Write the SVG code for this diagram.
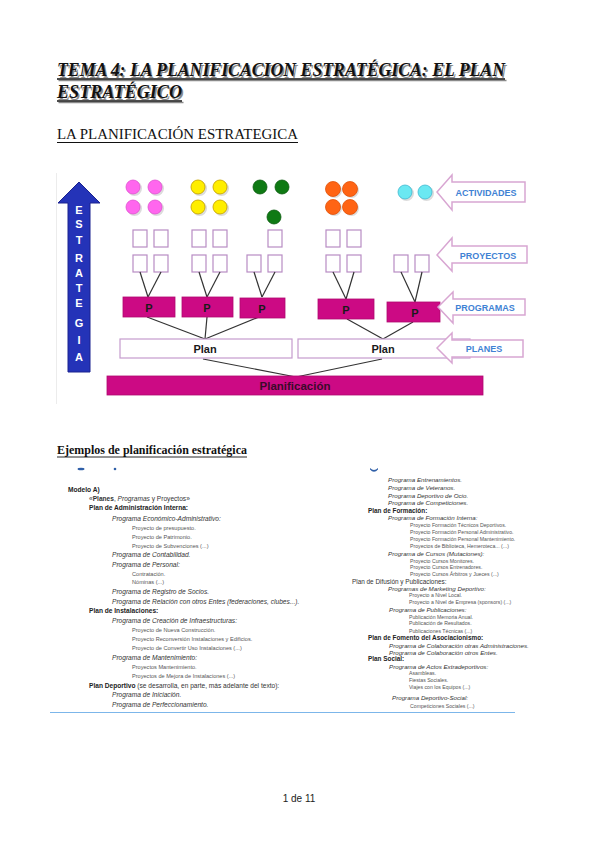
<svg xmlns="http://www.w3.org/2000/svg" width="599" height="848" viewBox="0 0 599 848">
<style>
.ttl{font-family:"Liberation Serif",serif;font-weight:bold;font-style:italic;font-size:19px;fill:#111}
.sh{fill:#8a8a8a}
.sec{font-family:"Liberation Serif",serif;font-size:14px;fill:#111}
.ej{font-family:"Liberation Serif",serif;font-weight:bold;font-size:12px;fill:#111}
.sq{fill:#fff;stroke:#b88cc4;stroke-width:1.2}
.pbox{fill:#cc0a84;stroke:#b0086f;stroke-width:0.8}
.plan{fill:#fff;stroke:#c59ccd;stroke-width:1.2}
.lbl{font-family:"Liberation Sans",Arial,sans-serif;font-weight:bold;fill:#1a1a1a;text-anchor:middle}
.con{stroke:#333;stroke-width:1.2;fill:none}
.arr{fill:#fff;stroke:#d8a6d2;stroke-width:1.5}
.arrt{font-family:"Liberation Sans",Arial,sans-serif;font-weight:bold;font-size:9px;fill:#3f82d4;text-anchor:middle}
.vl{font-family:"Liberation Sans",Arial,sans-serif;font-weight:bold;font-size:11px;fill:#fff;text-anchor:middle}
.t{font-family:"Liberation Sans",Arial,sans-serif;fill:#333}
.b{font-weight:bold;font-size:6.6px;fill:#222}
.i{font-style:italic;font-size:6.6px}
.s{font-size:5.6px;fill:#555}
.ri{font-style:italic;font-size:6.2px}
.rs{font-size:5.2px;fill:#555}
.rb{font-weight:bold;font-size:6.4px;fill:#222}
</style>

<!-- Titles -->
<g id="title">
<text class="ttl sh" x="58.5" y="77.5" textLength="448" lengthAdjust="spacingAndGlyphs">TEMA 4: LA PLANIFICACION ESTRATÉGICA: EL PLAN</text>
<text class="ttl" x="57" y="76" textLength="448" lengthAdjust="spacingAndGlyphs">TEMA 4: LA PLANIFICACION ESTRATÉGICA: EL PLAN</text>
<line x1="58.5" y1="80.5" x2="506.5" y2="80.5" stroke="#8a8a8a" stroke-width="1.5"/>
<line x1="57" y1="79" x2="505" y2="79" stroke="#111" stroke-width="1.5"/>
<text class="ttl sh" x="58.5" y="99.5" textLength="125" lengthAdjust="spacingAndGlyphs">ESTRATÉGICO</text>
<text class="ttl" x="57" y="98" textLength="125" lengthAdjust="spacingAndGlyphs">ESTRATÉGICO</text>
<line x1="58.5" y1="102.5" x2="183.5" y2="102.5" stroke="#8a8a8a" stroke-width="1.5"/>
<line x1="57" y1="101" x2="182" y2="101" stroke="#111" stroke-width="1.5"/>
</g>
<g id="section1">
<text class="sec" x="57" y="139" textLength="241" lengthAdjust="spacingAndGlyphs">LA PLANIFICACIÓN ESTRATEGICA</text>
<line x1="57" y1="142.5" x2="298" y2="142.5" stroke="#111" stroke-width="1"/>
</g>

<!-- Diagram -->
<line x1="56.5" y1="173" x2="56.5" y2="404" stroke="#ececec" stroke-width="1"/>

<g id="estrategia">
<polygon points="79,182 100,203 90,203 90,372 68,372 68,203 58,203" fill="#2433b8" stroke="#1a2290" stroke-width="1"/>
<text class="vl" x="79" y="214">E</text>
<text class="vl" x="79" y="228">S</text>
<text class="vl" x="79" y="244">T</text>
<text class="vl" x="79" y="262">R</text>
<text class="vl" x="79" y="277">A</text>
<text class="vl" x="79" y="292">T</text>
<text class="vl" x="79" y="307">E</text>
<text class="vl" x="79" y="327">G</text>
<text class="vl" x="79" y="344">I</text>
<text class="vl" x="79" y="361">A</text>
</g>

<!-- Activity circles -->
<g id="actividades-circulos">
<g fill="#dcdcdc">
<circle cx="134.5" cy="188.5" r="7.5"/><circle cx="156.5" cy="188.5" r="7.5"/><circle cx="134.5" cy="208.5" r="7.5"/><circle cx="156.5" cy="208.5" r="7.5"/>
<circle cx="199.5" cy="188.5" r="7.5"/><circle cx="221.5" cy="188.5" r="7.5"/><circle cx="199.5" cy="208.5" r="7.5"/><circle cx="221.5" cy="208.5" r="7.5"/>
<circle cx="334.5" cy="190.5" r="7.5"/><circle cx="351.5" cy="190.5" r="7.5"/><circle cx="334.5" cy="208.5" r="7.5"/><circle cx="351.5" cy="208.5" r="7.5"/>
<circle cx="406.5" cy="193.5" r="7.5"/><circle cx="426.5" cy="193.5" r="7.5"/>
</g>
<g fill="#ff66ee" stroke="#e050d0" stroke-width="0.8">
<circle cx="133" cy="187" r="7"/><circle cx="155" cy="187" r="7"/><circle cx="133" cy="207" r="7"/><circle cx="155" cy="207" r="7"/>
</g>
<g fill="#ffee00" stroke="#c9a800" stroke-width="0.9">
<circle cx="198" cy="187" r="7"/><circle cx="220" cy="187" r="7"/><circle cx="198" cy="207" r="7"/><circle cx="220" cy="207" r="7"/>
</g>
<g fill="#0f7a14" stroke="#0a5a0e" stroke-width="0.8">
<circle cx="260" cy="187" r="7"/><circle cx="282" cy="187" r="7"/><circle cx="274" cy="217" r="7"/>
</g>
<g fill="#ff6414" stroke="#e05008" stroke-width="0.8">
<circle cx="333" cy="189" r="7.5"/><circle cx="350" cy="189" r="7.5"/><circle cx="333" cy="207" r="7.5"/><circle cx="350" cy="207" r="7.5"/>
</g>
<g fill="#6ae8f2" stroke="#40b8d0" stroke-width="0.8">
<circle cx="405" cy="192" r="7"/><circle cx="425" cy="192" r="7"/>
</g>
</g>

<!-- Project squares -->
<g id="proyectos-cuadros">
<rect class="sq" x="133" y="230" width="14" height="17"/><rect class="sq" x="154" y="230" width="14" height="17"/>
<rect class="sq" x="133" y="255" width="14" height="17"/><rect class="sq" x="154" y="255" width="14" height="17"/>
<rect class="sq" x="192" y="230" width="14" height="17"/><rect class="sq" x="213" y="230" width="14" height="17"/>
<rect class="sq" x="192" y="255" width="14" height="17"/><rect class="sq" x="213" y="255" width="14" height="17"/>
<rect class="sq" x="268" y="230" width="14" height="17"/>
<rect class="sq" x="247" y="255" width="14" height="17"/><rect class="sq" x="268" y="255" width="14" height="17"/>
<rect class="sq" x="326" y="230" width="14" height="17"/><rect class="sq" x="347" y="230" width="14" height="17"/>
<rect class="sq" x="326" y="255" width="14" height="17"/><rect class="sq" x="347" y="255" width="14" height="17"/>
<rect class="sq" x="394" y="255" width="14" height="17"/><rect class="sq" x="415" y="255" width="14" height="17"/>
</g>

<!-- Connectors -->
<g id="conectores" class="con">
<line x1="140" y1="272" x2="148" y2="297"/><line x1="161" y1="272" x2="148" y2="297"/>
<line x1="199" y1="272" x2="207" y2="297"/><line x1="220" y1="272" x2="207" y2="297"/>
<line x1="254" y1="272" x2="262" y2="297"/><line x1="275" y1="272" x2="262" y2="297"/>
<line x1="333" y1="272" x2="346" y2="299"/><line x1="354" y1="272" x2="346" y2="299"/>
<line x1="401" y1="272" x2="415" y2="302"/><line x1="422" y1="272" x2="415" y2="302"/>
<line x1="147" y1="317" x2="205" y2="339"/><line x1="207" y1="317" x2="205" y2="339"/><line x1="259" y1="317" x2="205" y2="339"/>
<line x1="347" y1="319" x2="383" y2="339"/><line x1="413" y1="322" x2="383" y2="339"/>
<line x1="203" y1="359" x2="296" y2="377"/><line x1="382" y1="359" x2="296" y2="377"/>
</g>

<!-- Programs -->
<g id="programa-1"><rect class="pbox" x="123" y="297" width="52" height="20"/><text class="lbl" x="149" y="312" font-size="11">P</text></g>
<g id="programa-2"><rect class="pbox" x="182" y="297" width="51" height="20"/><text class="lbl" x="207" y="312" font-size="11">P</text></g>
<g id="programa-3"><rect class="pbox" x="240" y="298" width="45" height="20"/><text class="lbl" x="262" y="313" font-size="11">P</text></g>
<g id="programa-4"><rect class="pbox" x="318" y="299" width="56" height="20"/><text class="lbl" x="346" y="314" font-size="11">P</text></g>
<g id="programa-5"><rect class="pbox" x="387" y="302" width="53" height="20"/><text class="lbl" x="415" y="317" font-size="11">P</text></g>

<!-- Plans -->
<g id="plan-1"><rect class="plan" x="120" y="339" width="172" height="19"/><text class="lbl" x="205" y="352.5" font-size="11">Plan</text></g>
<g id="plan-2"><rect class="plan" x="298" y="339" width="172" height="19"/><text class="lbl" x="383" y="352.5" font-size="11">Plan</text></g>

<!-- Planificacion -->
<g id="planificacion"><rect x="107" y="376" width="376" height="19" fill="#cc0a84" stroke="#b0086f" stroke-width="0.8"/><text class="lbl" x="295" y="390" font-size="11.5" fill="#3a0a2a" style="fill:#3a0a2a">Planificación</text></g>

<!-- Level arrows -->
<g id="flecha-actividades"><polygon class="arr" points="437,192 452,175 452,182 525,182 525,202 452,202 452,210"/><text class="arrt" x="486" y="195.5">ACTIVIDADES</text></g>
<g id="flecha-proyectos"><polygon class="arr" points="437,255 452,238 452,246 527,246 527,263 452,263 452,271"/><text class="arrt" x="488" y="258.5">PROYECTOS</text></g>
<g id="flecha-programas"><polygon class="arr" points="438,307 453,292 453,299 525,299 525,315 453,315 453,323"/><text class="arrt" x="485" y="310.5">PROGRAMAS</text></g>
<g id="flecha-planes"><polygon class="arr" points="437,348 452,333 452,340 523,340 523,357 452,357 452,363"/><text class="arrt" x="484" y="351.5">PLANES</text></g>

<!-- Examples -->
<g id="section2">
<text class="ej" x="57" y="454" textLength="190" lengthAdjust="spacingAndGlyphs">Ejemplos de planificación estratégica</text>
<line x1="57" y1="457" x2="247" y2="457" stroke="#111" stroke-width="0.9"/>
</g>
<g id="marcas" fill="#2f5fa8">
<ellipse cx="81" cy="469" rx="3.5" ry="1.3"/>
<ellipse cx="115" cy="469" rx="1.3" ry="1.3"/>
<path d="M370,468 Q374,472 378,468 L378,469.5 Q374,474 370,469.5 Z"/>
</g>

<g id="texto-izquierda" class="t">
<text class="b" x="68" y="492">Modelo A)</text>
<text class="i" x="89" y="501" style="font-style:normal">«<tspan font-weight="bold">Planes</tspan>, <tspan font-style="italic">Programas</tspan> y Proyectos»</text>
<text class="b" x="89" y="510">Plan de Administración Interna:</text>
<text class="i" x="112" y="521">Programa Económico-Administrativo:</text>
<text class="s" x="132" y="530">Proyecto de presupuesto.</text>
<text class="s" x="132" y="539">Proyecto de Patrimonio.</text>
<text class="s" x="132" y="548">Proyecto de Subvenciones (...)</text>
<text class="i" x="112" y="557">Programa de Contabilidad.</text>
<text class="i" x="112" y="567">Programa de Personal:</text>
<text class="s" x="132" y="576">Contratación.</text>
<text class="s" x="132" y="584">Nóminas (...)</text>
<text class="i" x="112" y="594">Programa de Registro de Socios.</text>
<text class="i" x="112" y="604">Programa de Relación con otros Entes (federaciones, clubes...).</text>
<text class="b" x="89" y="613">Plan de Instalaciones:</text>
<text class="i" x="112" y="623">Programa de Creación de Infraestructuras:</text>
<text class="s" x="132" y="632">Proyecto de Nueva Construcción.</text>
<text class="s" x="132" y="641">Proyecto Reconversión Instalaciones y Edificios.</text>
<text class="s" x="132" y="650">Proyecto de Convertir Uso Instalaciones (...)</text>
<text class="i" x="112" y="660">Programa de Mantenimiento:</text>
<text class="s" x="132" y="669">Proyectos Mantenimiento.</text>
<text class="s" x="132" y="678">Proyectos de Mejora de Instalaciones (...)</text>
<text class="b" x="89" y="688">Plan Deportivo<tspan font-weight="normal" fill="#333"> (se desarrolla, en parte, más adelante del texto):</tspan></text>
<text class="i" x="112" y="697">Programa de Iniciación.</text>
<text class="i" x="112" y="707">Programa de Perfeccionamiento.</text>
</g>

<g id="texto-derecha" class="t">
<text class="ri" x="388" y="482">Programa Entrenamientos.</text>
<text class="ri" x="388" y="490">Programa de Veteranos.</text>
<text class="ri" x="388" y="498">Programa Deportivo de Ocio.</text>
<text class="ri" x="388" y="505">Programa de Competiciones.</text>
<text class="rb" x="368" y="513">Plan de Formación:</text>
<text class="ri" x="388" y="520">Programa de Formación Interna:</text>
<text class="rs" x="410" y="527">Proyecto Formación Técnicos Deportivos.</text>
<text class="rs" x="410" y="534">Proyecto Formación Personal Administrativo.</text>
<text class="rs" x="410" y="541">Proyecto Formación Personal Mantenimiento.</text>
<text class="rs" x="410" y="548">Proyectos de Biblioteca, Hemeroteca... (...)</text>
<text class="ri" x="388" y="556">Programa de Cursos (Mutaciones):</text>
<text class="rs" x="410" y="563">Proyecto Cursos Monitores.</text>
<text class="rs" x="410" y="569">Proyecto Cursos Entrenadores.</text>
<text class="rs" x="410" y="576">Proyecto Cursos Árbitros y Jueces (...)</text>
<text x="352" y="584" font-size="6.4">Plan de Difusión y Publicaciones:</text>
<text class="ri" x="388" y="591">Programas de Marketing Deportivo:</text>
<text class="rs" x="409" y="597">Proyecto a Nivel Local.</text>
<text class="rs" x="409" y="604">Proyecto a Nivel de Empresa (sponsors) (...)</text>
<text class="ri" x="389" y="612">Programa de Publicaciones:</text>
<text class="rs" x="409" y="619">Publicación Memoria Anual.</text>
<text class="rs" x="409" y="625">Publicación de Resultados.</text>
<text class="rs" x="409" y="633">Publicaciones Técnicas (...)</text>
<text class="rb" x="368" y="640">Plan de Fomento del Asociacionismo:</text>
<text class="ri" x="389" y="648">Programa de Colaboración otras Administraciones.</text>
<text class="ri" x="389" y="655">Programa de Colaboración otros Entes.</text>
<text class="rb" x="368" y="661">Plan Social:</text>
<text class="ri" x="389" y="669">Programa de Actos Extradeportivos:</text>
<text class="rs" x="409" y="675">Asambleas.</text>
<text class="rs" x="409" y="682">Fiestas Sociales.</text>
<text class="rs" x="409" y="689">Viajes con los Equipos (...)</text>
<text class="ri" x="392" y="700">Programa Deportivo-Social:</text>
<text class="rs" x="410" y="708">Competiciones Sociales (...)</text>
</g>

<line x1="50" y1="712.5" x2="515" y2="712.5" stroke="#7cb6ea" stroke-width="1"/>

<g id="pie"><text x="299" y="802" font-family="'Liberation Sans',Arial,sans-serif" font-size="10" fill="#222" text-anchor="middle">1 de 11</text></g>
</svg>
